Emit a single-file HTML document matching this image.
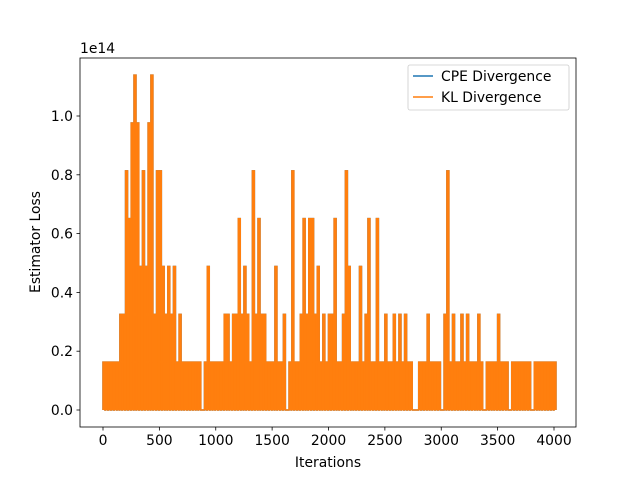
<!DOCTYPE html>
<html><head><meta charset="utf-8"><style>
body{margin:0;background:#fff;}
svg{display:block;font-family:"DejaVu Sans","Liberation Sans",sans-serif;}
</style></head><body>
<svg id="chart" width="640" height="480" style="position:absolute;left:0;top:0">
<rect width="640" height="480" fill="#fff"/>
<g id="plot"></g>
<g id="axes"></g>
</svg>
<script>
const levelStep = 0.1627;
const iterStep = 25;
const kLevels = [1,1,1,1,1,1,2,2,5,4,6,7,6,3,5,3,6,7,2,5,5,3,2,3,2,3,1,2,1,1,1,1,1,1,1,0,1,3,1,1,1,1,1,2,2,1,2,2,4,2,3,2,1,5,2,4,2,2,1,1,1,3,1,1,2,0,1,5,1,1,2,4,2,4,4,2,3,1,2,1,2,2,4,1,1,2,5,3,1,1,1,3,1,2,4,1,1,4,1,1,2,1,1,2,1,2,1,2,1,1,0,0,1,1,1,2,1,1,1,1,0,2,5,1,2,1,1,2,1,2,1,1,1,2,1,0,1,1,1,1,2,1,1,1,0,1,1,1,1,1,1,1,0,1,1,1,1,1,1,1,1];
const xTicks = [0,500,1000,1500,2000,2500,3000,3500,4000];
const yTicks = [0,0.2,0.4,0.6,0.8,1.0];
const NS='http://www.w3.org/2000/svg';
const L=80,R=576,T=58,B=427;
const xs=v=>103+(v/4000)*451;
const ys=v=>410-v*294;
function mk(tag,attrs,parent){const e=document.createElementNS(NS,tag);for(const k in attrs)e.setAttribute(k,attrs[k]);parent.appendChild(e);return e;}
const plot=document.getElementById('plot'), axes=document.getElementById('axes');
let d='M'+xs(0)+','+ys(0);
kLevels.forEach((lv,i)=>{const a=xs(i*iterStep),b=xs(i*iterStep+iterStep*0.7),y=ys(lv*levelStep);
d+=' L'+a+','+ys(0)+' L'+a+','+y+' L'+b+','+y+' L'+b+','+ys(0);});
const p1=mk('path',{d:d,fill:'#1f77b4',stroke:'#1f77b4','stroke-width':1.5},plot);


const p2=mk('path',{d:d,fill:'#ff7f0e',stroke:'#ff7f0e','stroke-width':1.5},plot);


const frame=mk('rect',{x:L,y:T,width:R-L,height:B-T,fill:'none',stroke:'#000','stroke-width':0.8},axes);


xTicks.forEach(v=>{const x=xs(v);mk('line',{x1:x,x2:x,y1:B,y2:B+3.5,stroke:'#000','stroke-width':0.8},axes);
const t=mk('text',{x:x,y:B+18,'font-size':13.9,'text-anchor':'middle'},axes);t.textContent=v;

});
yTicks.forEach(v=>{const y=ys(v);mk('line',{x1:L,x2:L-3.5,y1:y,y2:y,stroke:'#000','stroke-width':0.8},axes);
const t=mk('text',{x:L-7,y:y+5,'font-size':13.9,'text-anchor':'end'},axes);t.textContent=v.toFixed(1);

});
</script>
<svg style="position:absolute;left:0;top:0" width="640" height="480" font-family="DejaVu Sans, Liberation Sans, sans-serif">
<text x="80" y="53" font-size="13.9">1e14</text>
<text x="328" y="467" font-size="13.9" text-anchor="middle">Iterations</text>
<text transform="translate(40,242) rotate(-90)" font-size="13.9" text-anchor="middle">Estimator Loss</text>
<g>
<rect x="408" y="65" width="161" height="45" rx="2" fill="#fff" fill-opacity="0.8" stroke="#ccc" stroke-width="0.8"/>
<line x1="413" x2="433" y1="76" y2="76" stroke="#1f77b4" stroke-width="1.5"/>
<text x="441" y="81" font-size="13.9">CPE Divergence</text>
<line x1="413" x2="433" y1="97" y2="97" stroke="#ff7f0e" stroke-width="1.5"/>
<text x="441" y="102" font-size="13.9">KL Divergence</text>
</g>
</svg>
</body></html>
